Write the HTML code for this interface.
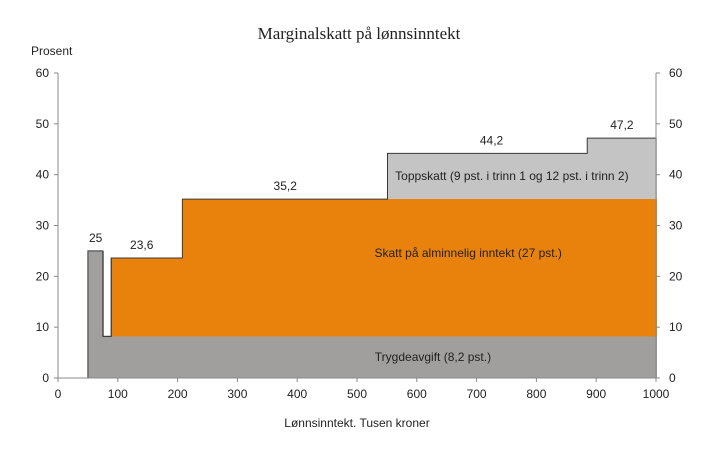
<!DOCTYPE html>
<html><head><meta charset="utf-8"><style>
body{margin:0;background:#fff}
svg text{font-family:"Liberation Sans",sans-serif;font-size:12px;fill:#222}
</style></head><body>
<svg id="c" width="719" height="459">
<text x="359" y="39" text-anchor="middle" style="font-family:'Liberation Serif',serif;font-size:17px">Marginalskatt på lønnsinntekt</text>
<text x="31" y="55">Prosent</text>
<text x="357" y="427" text-anchor="middle">Lønnsinntekt. Tusen kroner</text>
<g id="marks" shape-rendering="crispEdges"></g>
<g id="axes"></g>
</svg>
<script>
const breaks=[0,50,75,89,208,551,885,1000];
const trygd=[0,25,8.2,8.2,8.2,8.2,8.2];
const alm=[0,0,0,15.4,27,27,27];
const topp=[0,0,0,0,0,9,12];
const valueLabels=["25","23,6","35,2","44,2","47,2"];
const valueLabelX=[63,140,380,725,943];
const valueLabelY=[25,23.6,35.2,44.2,47.2];
const yTicks=[0,10,20,30,40,50,60];
const xTicks=[0,100,200,300,400,500,600,700,800,900,1000];
const X=v=>58+v*0.598, Y=v=>378-v*5.0833;
const NS="http://www.w3.org/2000/svg";
const M=document.getElementById('marks'),A=document.getElementById('axes');
function mk(p,t,a){const e=document.createElementNS(NS,t);for(const k in a)e.setAttribute(k,a[k]);p.appendChild(e);return e;}
const cols=["#a09f9e","#e8820c","#c4c4c4"];
const layers=[trygd,alm,topp];
for(let i=0;i<breaks.length-1;i++){
 let base=0;
 layers.forEach((L,j)=>{
  if(L[i]>0){
   const r=mk(M,'rect',{x:X(breaks[i]),y:Y(base+L[i]),width:X(breaks[i+1])-X(breaks[i])+1,height:Y(base)-Y(base+L[i]),fill:cols[j]});
   
   
  }
  base+=L[i];
 });
}
let d="M"+X(0)+","+Y(0);
for(let i=0;i<breaks.length-1;i++){
 const tot=trygd[i]+alm[i]+topp[i];
 d+=" L"+X(breaks[i])+","+Y(tot)+" L"+X(breaks[i+1])+","+Y(tot);
}
const ol=mk(A,'path',{d:d,fill:"none",stroke:"#3a3a3a","stroke-width":1});


const st=mk(A,'path',{d:"M"+X(breaks[2])+","+Y(trygd[2])+" L"+X(breaks[3])+","+Y(trygd[2])+" L"+X(breaks[3])+","+Y(trygd[3]+alm[3]),fill:"none",stroke:"#3a3a3a"});


valueLabels.forEach((t,i)=>{
 const e=mk(A,'text',{x:X(valueLabelX[i]),y:Y(valueLabelY[i])-9,"text-anchor":"middle"});
 e.textContent=t;
 
 
});
[["Trygdeavgift (8,2 pst.)",X(627),Y(4.1)+4],["Skatt på alminnelig inntekt (27 pst.)",X(686),Y(24.6)+4],["Toppskatt (9 pst. i trinn 1 og 12 pst. i trinn 2)",X(759),Y(39.7)+4]].forEach(a=>{
 const e=mk(A,'text',{x:a[1],y:a[2],"text-anchor":"middle"});e.textContent=a[0];
 
 
});
const ax=mk(A,'path',{d:`M${X(0)},${Y(60)}V${Y(0)}H${X(1000)}V${Y(60)}`,fill:"none",stroke:"#888"});


yTicks.forEach(v=>{
 mk(A,'line',{x1:X(0)-4,x2:X(0),y1:Y(v),y2:Y(v),stroke:"#888"});
 mk(A,'line',{x1:X(1000),x2:X(1000)+4,y1:Y(v),y2:Y(v),stroke:"#888"});
 const l=mk(A,'text',{x:X(0)-9,y:Y(v)+4,"text-anchor":"end"});l.textContent=v;
 
 
 const r=mk(A,'text',{x:X(1000)+13,y:Y(v)+4});r.textContent=v;
 
 
});
xTicks.forEach(v=>{
 mk(A,'line',{x1:X(v),x2:X(v),y1:Y(0),y2:Y(0)+4,stroke:"#888"});
 const t=mk(A,'text',{x:X(v),y:Y(0)+20,"text-anchor":"middle"});t.textContent=v;
 
 
});
</script>
</body></html>
